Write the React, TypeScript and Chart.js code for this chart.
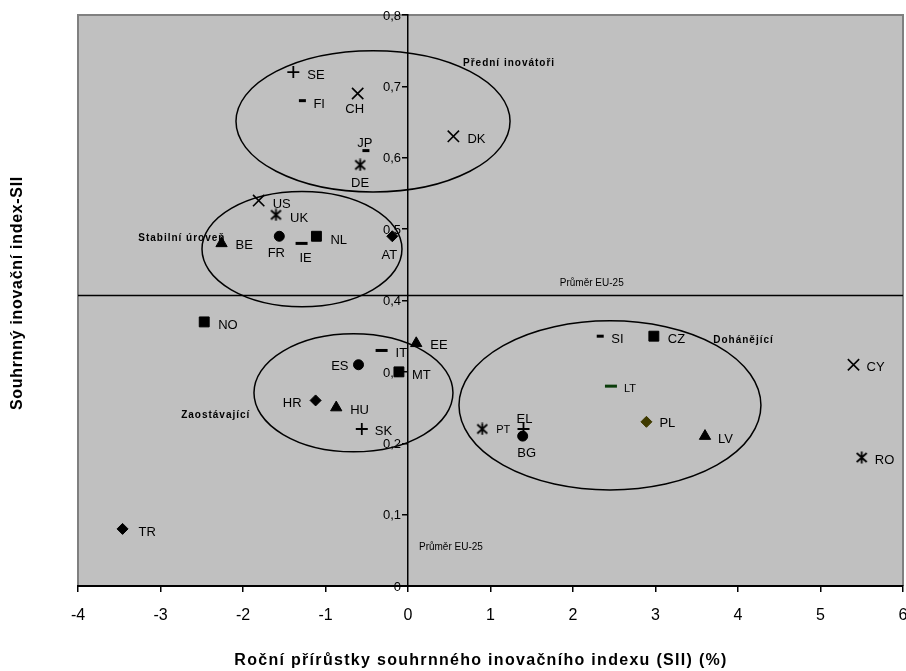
import React, { useEffect, useRef } from "react";
import { Chart, registerables } from "chart.js";

Chart.register(...registerables);

// ---------- DATA ----------
const countries = ["SE", "FI", "CH", "JP", "DE", "DK", "US", "UK", "FR", "IE", "NL", "BE", "AT", "NO", "EE", "IT", "ES", "MT", "HR", "HU", "SK", "PT", "EL", "BG", "SI", "CZ", "LT", "PL", "LV", "CY", "RO", "TR"];
const growth = [-1.39, -1.28, -0.61, -0.51, -0.58, 0.55, -1.81, -1.6, -1.56, -1.29, -1.11, -2.26, -0.19, -2.47, 0.1, -0.32, -0.6, -0.11, -1.12, -0.87, -0.56, 0.9, 1.4, 1.39, 2.33, 2.98, 2.46, 2.89, 3.6, 5.4, 5.5, -3.46];
const sii = [0.72, 0.68, 0.69, 0.61, 0.59, 0.63, 0.54, 0.52, 0.49, 0.48, 0.49, 0.48, 0.49, 0.37, 0.34, 0.33, 0.31, 0.30, 0.26, 0.25, 0.22, 0.22, 0.22, 0.21, 0.35, 0.35, 0.28, 0.23, 0.21, 0.31, 0.18, 0.08];
const euAverage = 0.407;

const xTicksMin = -4;
const xTicksMax = 6;
const yTicksMin = 0;
const yTicksMax = 0.8;

const groupNames = ["Přední inovátoři", "Stabilní úroveň", "Zaostávající", "Dohánějící"];
const groupCx = [-0.424, -1.285, -0.661, 2.448];
const groupCy = [0.651, 0.472, 0.2707, 0.2531];
const groupRx = [1.661, 1.212, 1.206, 1.83];
const groupRy = [0.0989, 0.0806, 0.0827, 0.1185];
const groupLabelX = [0.667, -3.27, -2.75, 3.7];
const groupLabelY = [0.733, 0.488, 0.241, 0.346];

const avgLabel = "Průměr EU-25";
const avgLabelX = [1.84, 0.133];
const avgLabelY = [0.425, 0.056];

const xTitle = "Roční přírůstky souhrnného inovačního indexu (SII) (%)";
const yTitle = "Souhrnný inovační index-SII";

// ---------- STYLES ----------
const FONT = "'Liberation Sans', Arial, Helvetica, sans-serif";
const markerOf: Record<string, string> = {
  SE: "plus", FI: "dashS", CH: "x", JP: "dashS", DE: "ast", DK: "x", US: "x", UK: "ast",
  FR: "circle", IE: "dashL", NL: "square", BE: "tri", AT: "diamond", NO: "square", EE: "tri",
  IT: "dashL", ES: "circle", MT: "square", HR: "diamond", HU: "tri", SK: "plus", PT: "ast",
  EL: "plus", BG: "circle", SI: "dashS", CZ: "square", LT: "dashL", PL: "diamond", LV: "tri",
  CY: "x", RO: "ast", TR: "diamond",
};
const colorOf: Record<string, string> = { LT: "#0b3d0b", PL: "#3f3a00" };
// label placement: [dx, dy (cap centre), align, font size]
const labelPlace: Record<string, [number, number, CanvasTextAlign, number]> = {
  SE: [14, 2, "left", 13], FI: [11, 3, "left", 13], CH: [-3, 15, "center", 13], JP: [-1, -8.5, "center", 13],
  DE: [0, 17, "center", 13], DK: [14, 2, "left", 13], US: [14, 3, "left", 13], UK: [14, 2, "left", 13],
  FR: [-3, 16, "center", 13], IE: [4, 14, "center", 13], NL: [14, 3, "left", 13], BE: [14, 1, "left", 13],
  AT: [-3, 18, "center", 13], NO: [14, 2, "left", 13], EE: [14, 1, "left", 13], IT: [14, 2, "left", 13],
  ES: [-10, 1, "right", 13], MT: [13, 2, "left", 13], HR: [-14, 2, "right", 13], HU: [14, 2, "left", 13],
  SK: [13, 1.5, "left", 13], PT: [14, 0, "left", 11], EL: [1, -11, "center", 13], BG: [4, 16, "center", 13],
  SI: [11, 2, "left", 13], CZ: [14, 2, "left", 13], LT: [13, 2, "left", 11], PL: [13, 1, "left", 13],
  LV: [13, 2, "left", 13], CY: [13, 2, "left", 13], RO: [13, 2, "left", 13], TR: [16, 2, "left", 13],
};

function makeAsterisk(): HTMLCanvasElement {
  const c = document.createElement("canvas");
  c.width = 13;
  c.height = 13;
  const g = c.getContext("2d")!;
  g.strokeStyle = "#000";
  g.lineWidth = 1.8;
  g.beginPath();
  g.moveTo(1.5, 2); g.lineTo(11.5, 11);
  g.moveTo(11.5, 2); g.lineTo(1.5, 11);
  g.moveTo(6.5, 0.5); g.lineTo(6.5, 12.5);
  g.stroke();
  return c;
}

function capText(ctx: CanvasRenderingContext2D, text: string, x: number, cy: number, size: number, align: CanvasTextAlign) {
  ctx.textAlign = align;
  ctx.textBaseline = "alphabetic";
  ctx.fillText(text, x, cy + size * 0.358);
}

const backgroundPlugin = {
  id: "plotBg",
  beforeDraw(chart: any) {
    const { ctx, chartArea: a } = chart;
    ctx.save();
    ctx.fillStyle = "#c0c0c0";
    ctx.fillRect(a.left, a.top, a.right - a.left, a.bottom - a.top);
    ctx.strokeStyle = "#808080";
    ctx.lineWidth = 2;
    ctx.beginPath();
    ctx.moveTo(a.left, a.bottom);
    ctx.lineTo(a.left, a.top);
    ctx.lineTo(a.right, a.top);
    ctx.lineTo(a.right, a.bottom);
    ctx.stroke();
    ctx.restore();
  },
};

const ellipsePlugin = {
  id: "groups",
  beforeDatasetsDraw(chart: any) {
    const { ctx } = chart;
    const xs = chart.scales.x;
    const ys = chart.scales.y;
    ctx.save();
    ctx.strokeStyle = "#000";
    ctx.lineWidth = 1.5;
    for (let i = 0; i < groupCx.length; i++) {
      const cx = xs.getPixelForValue(groupCx[i]);
      const cy = ys.getPixelForValue(groupCy[i]);
      const rx = Math.abs(xs.getPixelForValue(groupCx[i] + groupRx[i]) - cx);
      const ry = Math.abs(ys.getPixelForValue(groupCy[i] + groupRy[i]) - cy);
      ctx.beginPath();
      ctx.ellipse(cx, cy, rx, ry, 0, 0, Math.PI * 2);
      ctx.stroke();
    }
    ctx.fillStyle = "#000";
    ctx.font = `bold 10px ${FONT}`;
    (ctx as any).letterSpacing = "1px";
    for (let i = 0; i < groupNames.length; i++) {
      capText(ctx, groupNames[i], xs.getPixelForValue(groupLabelX[i]), ys.getPixelForValue(groupLabelY[i]), 10, "left");
    }
    (ctx as any).letterSpacing = "0px";
    ctx.font = `10px ${FONT}`;
    for (let i = 0; i < avgLabelX.length; i++) {
      capText(ctx, avgLabel, xs.getPixelForValue(avgLabelX[i]), ys.getPixelForValue(avgLabelY[i]), 10, "left");
    }
    // y-axis tick labels, to the left of the centred axis
    const axisX = xs.getPixelForValue(0);
    ctx.font = `13px ${FONT}`;
    ys.ticks.forEach((t: any) => {
      const v = Number(t.value);
      const txt = Math.abs(v) < 1e-9 ? "0" : v.toFixed(1).replace(".", ",");
      capText(ctx, txt, axisX - 7, ys.getPixelForValue(v), 13, "right");
    });
    ctx.restore();
  },
};

const labelPlugin = {
  id: "pointLabels",
  afterDatasetsDraw(chart: any) {
    const { ctx } = chart;
    const meta = chart.getDatasetMeta(1);
    ctx.save();
    ctx.fillStyle = "#000";
    countries.forEach((c, i) => {
      const el = meta.data[i];
      const [dx, dy, align, size] = labelPlace[c];
      ctx.font = `${size}px ${FONT}`;
      capText(ctx, c, el.x + dx, el.y + dy, size, align);
    });
    ctx.restore();
  },
  afterDraw(chart: any) {
    const { ctx } = chart;
    ctx.save();
    ctx.fillStyle = "#000";
    ctx.textAlign = "center";
    ctx.textBaseline = "middle";
    ctx.font = `bold 16px ${FONT}`;
    (ctx as any).letterSpacing = "1.3px";
    ctx.fillText(xTitle, 481, 661);
    (ctx as any).letterSpacing = "0.7px";
    ctx.translate(18, 293);
    ctx.rotate(-Math.PI / 2);
    ctx.fillText(yTitle, 0, 0);
    ctx.restore();
  },
};

export default function App() {
  const ref = useRef<HTMLCanvasElement>(null);
  useEffect(() => {
    const canvas = ref.current!;
    const asterisk = makeAsterisk();
    const styles = countries.map((c) => {
      const m = markerOf[c];
      const col = colorOf[c] || "#000";
      switch (m) {
        case "plus": return { ps: "cross", r: 6, bw: 1.8, col };
        case "x": return { ps: "crossRot", r: 8, bw: 1.6, col };
        case "ast": return { ps: asterisk, r: 6, bw: 1, col };
        case "circle": return { ps: "circle", r: 5, bw: 1, col };
        case "square": return { ps: "rect", r: 7, bw: 1, col };
        case "tri": return { ps: "triangle", r: 6.5, bw: 1, col };
        case "diamond": return { ps: "rectRot", r: 5.5, bw: 1, col };
        case "dashS": return { ps: "line", r: 3.5, bw: 3, col };
        default: return { ps: "line", r: 6, bw: 3, col };
      }
    });
    const chart: any = new Chart(canvas, {
      type: "scatter",
      data: {
        datasets: [
          {
            type: "line",
            data: [
              { x: xTicksMin, y: euAverage },
              { x: xTicksMax, y: euAverage },
            ],
            borderColor: "#000",
            borderWidth: 1.5,
            pointRadius: 0,
            pointHoverRadius: 0,
          } as any,
          {
            data: countries.map((_, i) => ({ x: growth[i], y: sii[i] })),
            pointStyle: styles.map((s) => s.ps) as any,
            pointRadius: styles.map((s) => s.r),
            pointBorderWidth: styles.map((s) => s.bw),
            pointBackgroundColor: styles.map((s) => s.col),
            pointBorderColor: styles.map((s) => s.col),
            pointHoverRadius: styles.map((s) => s.r),
          } as any,
        ],
      },
      options: {
        animation: false,
        responsive: false,
        maintainAspectRatio: false,
        devicePixelRatio: 1,
        layout: { autoPadding: false, padding: { left: 78, right: 3, top: 15, bottom: 0 } },
        plugins: { legend: { display: false }, tooltip: { enabled: false } },
        scales: {
          x: {
            type: "linear",
            position: "bottom",
            min: xTicksMin,
            max: xTicksMax,
            ticks: { stepSize: 1, color: "#000", font: { size: 16, family: FONT }, padding: 14, maxRotation: 0 },
            grid: { drawOnChartArea: false, color: "#000", tickLength: 6, lineWidth: 1.5 },
            border: { color: "#000", width: 2 },
            afterFit: (s: any) => {
              s.height = 85;
              s.paddingLeft = 0;
              s.paddingRight = 0;
            },
          },
          y: {
            type: "linear",
            position: { x: 0 } as any,
            min: yTicksMin,
            max: yTicksMax,
            ticks: { stepSize: 0.1, display: false },
            grid: { drawOnChartArea: false, color: "#000", tickLength: 5, lineWidth: 1.5 },
            border: { color: "#000", width: 1.5 },
          },
        },
      },
      plugins: [backgroundPlugin, ellipsePlugin, labelPlugin],
    });
    return () => chart.destroy();
  }, []);
  return (
    <div style={{ position: "absolute", left: 0, top: 0, width: 906, height: 671, background: "#fff" }}>
      <canvas ref={ref} width={906} height={671} style={{ display: "block", width: 906, height: 671 }} />
    </div>
  );
}
